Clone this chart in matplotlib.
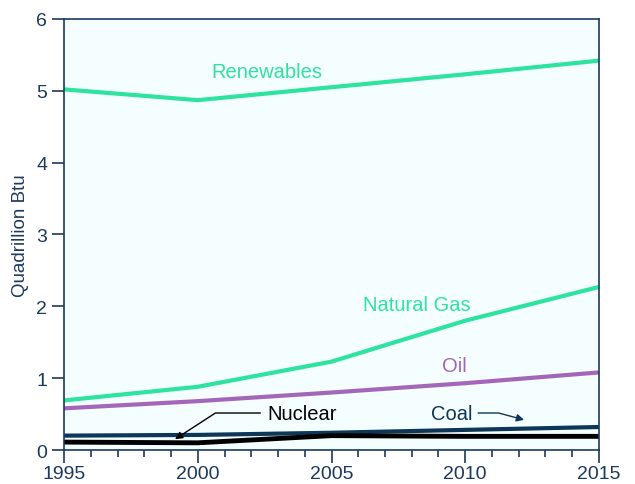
import matplotlib.pyplot as plt
from matplotlib.ticker import MultipleLocator

years = [1995, 2000, 2005, 2010, 2015]
renewables = [5.02, 4.87, 5.05, 5.23, 5.42]
natural_gas = [0.69, 0.88, 1.23, 1.80, 2.27]
oil = [0.58, 0.68, 0.80, 0.93, 1.08]
coal = [0.20, 0.21, 0.24, 0.28, 0.32]
nuclear = [0.11, 0.10, 0.20, 0.19, 0.19]

navy = '#1b3a5c'
green = '#2ee3a0'
purple = '#a466b8'
coal_col = '#0d3659'

plt.rcParams['font.family'] = ['Liberation Sans', 'DejaVu Sans']

fig = plt.figure(figsize=(6.35, 4.85), dpi=100)
ax = fig.add_axes([0.1008, 0.0701, 0.8425, 0.8887])
ax.set_facecolor('#f4fefe')

ax.plot(years, renewables, color=green, lw=3)
ax.plot(years, natural_gas, color=green, lw=3)
ax.plot(years, oil, color=purple, lw=3)
ax.plot(years, coal, color=coal_col, lw=3)
ax.plot(years, nuclear, color='black', lw=3.5)

ax.set_xlim(1995, 2015)
ax.set_ylim(0, 6)
ax.set_xticks(years)
ax.xaxis.set_minor_locator(MultipleLocator(1))
ax.set_yticks(range(0, 7))

for s in ax.spines.values():
    s.set_color(navy)
    s.set_linewidth(1.2)

ax.tick_params(axis='both', which='major', colors=navy, labelcolor=navy,
               labelsize=14, length=9, width=1.2, direction='out')
ax.tick_params(axis='x', which='minor', colors=navy, length=5, width=1.2)
ax.tick_params(axis='x', pad=1.5)
ax.tick_params(axis='y', pad=3)

ax.set_ylabel('Quadrillion Btu', fontsize=13.5, color=navy, labelpad=5)

fs = 14.5
ax.text(2002.6, 5.27, 'Renewables', color=green, fontsize=fs, ha='center', va='center')
ax.text(2008.2, 2.03, 'Natural Gas', color=green, fontsize=fs, ha='center', va='center')
ax.text(2009.6, 1.18, 'Oil', color=purple, fontsize=fs, ha='center', va='center')

# callouts for the two lines hugging the x axis
ax.annotate('Nuclear', xy=(1999.15, 0.15), xytext=(2003.9, 0.515),
            color='black', fontsize=fs, ha='center', va='center',
            arrowprops=dict(arrowstyle='-|>', color='black', lw=1,
                            connectionstyle='angle,angleA=0,angleB=33,rad=0',
                            mutation_scale=11, shrinkA=3, shrinkB=0))
ax.annotate('Coal', xy=(2012.2, 0.42), xytext=(2009.5, 0.515),
            color=coal_col, fontsize=fs, ha='center', va='center',
            arrowprops=dict(arrowstyle='-|>', color=coal_col, lw=1,
                            connectionstyle='angle,angleA=0,angleB=-15,rad=0',
                            mutation_scale=11, shrinkA=2, shrinkB=0))

fig.savefig('out.png', dpi=100)
